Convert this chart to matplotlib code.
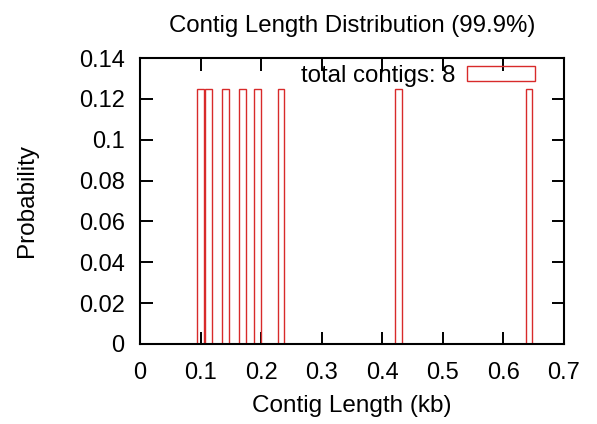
import numpy as np
from matplotlib import pyplot as plt
from matplotlib.patches import Rectangle

# Contig lengths (kb) and their share of all contigs
contig_lengths = [0.100, 0.113, 0.1415, 0.169, 0.1945, 0.233, 0.427, 0.642]
probabilities = [0.125, 0.125, 0.125, 0.125, 0.125, 0.125, 0.125, 0.125]
x_ticks = [0, 0.1, 0.2, 0.3, 0.4, 0.5, 0.6, 0.7]
y_ticks = [0, 0.02, 0.04, 0.06, 0.08, 0.1, 0.12, 0.14]

plt.rcParams["font.family"] = ["Liberation Sans", "DejaVu Sans"]

fig = plt.figure(figsize=(5.97, 4.24), dpi=100)
ax = fig.add_axes([0.2345, 0.1887, 0.7102, 0.6745])

bar_color = "#d82a2a"
bars = ax.bar(contig_lengths, probabilities, width=0.011, fill=False,
              edgecolor=bar_color, linewidth=1.0, zorder=2)

ax.set_xlim(0, 0.7)
ax.set_ylim(0, 0.14)
ax.set_xticks(x_ticks)
ax.set_xticklabels([f"{t:g}" for t in x_ticks])
ax.set_yticks(y_ticks)
ax.set_yticklabels([f"{t:g}" for t in y_ticks])

# gnuplot-like inward ticks mirrored on all sides
ax.tick_params(direction="in", length=9, width=1.4, top=True, right=True,
               labelsize=17, colors="black")
ax.tick_params(axis="y", pad=11)
ax.tick_params(axis="x", pad=13)
for spine in ax.spines.values():
    spine.set_linewidth(1.5)

ax.set_title("Contig Length Distribution (99.9%)", fontsize=17.3, pad=19)
ax.set_xlabel("Contig Length (kb)", fontsize=17.5, labelpad=8)
ax.set_ylabel("Probability", fontsize=17.5, labelpad=29)

# key in the top-right corner
handle = Rectangle((0, 0), 1, 1, fill=False, edgecolor=bar_color, linewidth=1.0)
leg = ax.legend([handle], ["total contigs: %d" % len(contig_lengths)],
                loc="upper right", bbox_to_anchor=(0.932, 0.975),
                frameon=False, fontsize=17.3, markerfirst=False,
                handlelength=2.85, handleheight=0.55,
                borderaxespad=0, borderpad=0, handletextpad=0.45)

fig.savefig("out.png", dpi=100, facecolor="white")
plt.close(fig)
